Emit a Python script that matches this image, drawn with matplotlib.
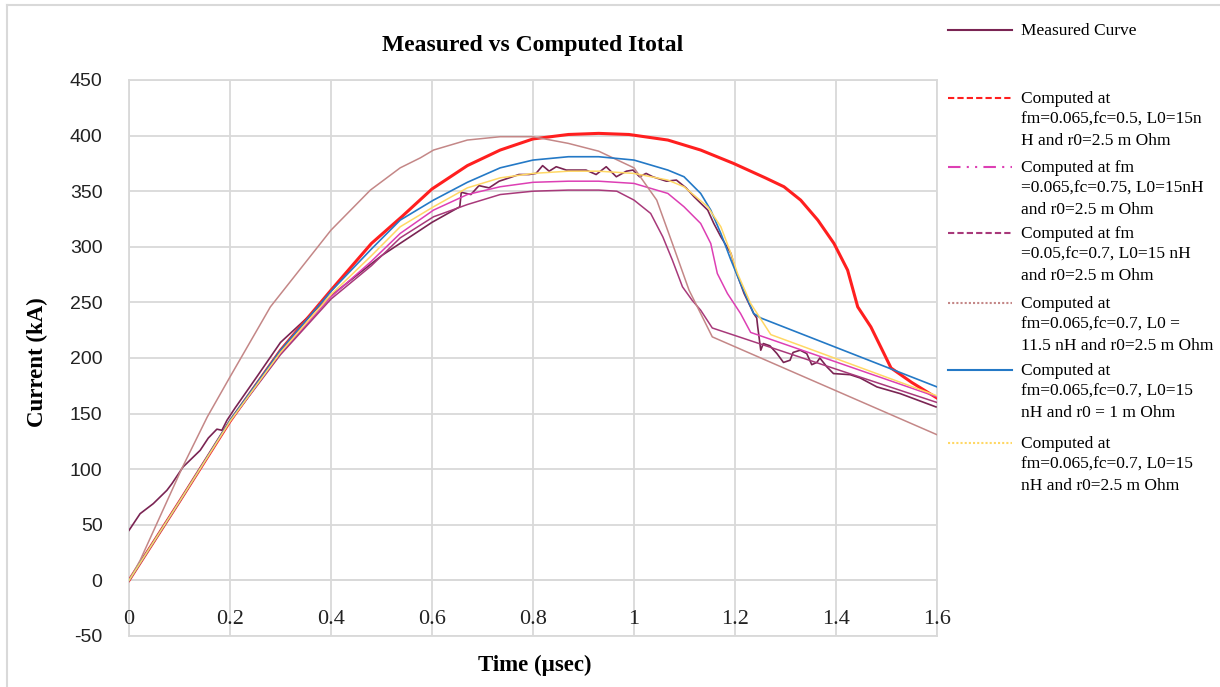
import matplotlib
matplotlib.use("Agg")
import matplotlib.pyplot as plt
from matplotlib.lines import Line2D

plt.rcParams["axes.unicode_minus"] = False

# data (time in usec, current in kA)
meas_t = [0, 0.022, 0.048, 0.075, 0.085, 0.107, 0.141, 0.157, 0.174, 0.184, 0.194, 0.21, 0.253, 0.3,
          0.4, 0.5, 0.6, 0.655, 0.658, 0.677, 0.693, 0.713, 0.733, 0.753, 0.772, 0.792, 0.806, 0.819,
          0.832, 0.846, 0.866, 0.885, 0.905, 0.925, 0.945, 0.965, 0.985, 0.998, 1.011, 1.024, 1.037,
          1.064, 1.084, 1.103, 1.119, 1.146, 1.158, 1.172, 1.192, 1.201, 1.218, 1.237, 1.243, 1.245,
          1.251, 1.256, 1.269, 1.283, 1.296, 1.309, 1.315, 1.329, 1.342, 1.352, 1.362, 1.368, 1.382,
          1.395, 1.428, 1.448, 1.481, 1.527, 1.598]
meas_i = [45, 60, 69, 81, 87, 102, 117, 128, 136, 135, 144, 155, 183, 214,
          256, 292, 322, 336, 349, 347, 355, 353, 359, 362, 365, 365, 366, 373,
          368, 372, 369, 369, 369, 365, 372, 363, 368, 369, 363, 366, 363,
          359, 360, 353, 345, 333, 321, 309, 294, 279, 258, 240, 236, 228,
          207, 213, 211, 204, 196, 198, 205, 207, 204, 194, 196, 200, 192,
          186, 185, 182, 174, 168, 156]

red_t = [0, 0.1, 0.2, 0.3, 0.4, 0.48, 0.54, 0.6, 0.67, 0.735, 0.8, 0.87, 0.93, 0.99, 1.067, 1.132,
         1.197, 1.26, 1.297, 1.33, 1.364, 1.396, 1.423, 1.443, 1.469, 1.495, 1.509, 1.55, 1.6]
red_i = [0, 71, 143, 207, 261, 303, 327, 352, 373, 387, 397, 401, 402, 401, 396, 387,
         375, 362, 354, 342, 324, 303, 279, 246, 228, 204, 191, 178, 164]

mag_t = [0, 0.1, 0.2, 0.3, 0.4, 0.48, 0.537, 0.603, 0.67, 0.735, 0.8, 0.87, 0.93, 1.0, 1.067, 1.099,
         1.132, 1.152, 1.165, 1.185, 1.211, 1.231, 1.6]
mag_i = [0, 71, 143, 204, 255, 287, 312, 333, 347, 354, 358, 359, 359, 357, 348, 336,
         321, 303, 276, 258, 240, 223, 165]

pur_t = [0, 0.1, 0.2, 0.3, 0.4, 0.48, 0.537, 0.603, 0.67, 0.735, 0.8, 0.87, 0.93, 0.966, 1.0, 1.033,
         1.057, 1.076, 1.096, 1.115, 1.132, 1.155, 1.4, 1.6]
pur_i = [0, 71, 143, 203, 253, 283, 308, 327, 338, 347, 350, 351, 351, 350, 342, 330,
         309, 288, 264, 252, 243, 227, 190, 160]

brn_t = [0, 0.022, 0.105, 0.155, 0.2, 0.28, 0.4, 0.478, 0.537, 0.577, 0.603, 0.67, 0.735, 0.8, 0.87,
         0.93, 1.0, 1.045, 1.076, 1.109, 1.132, 1.155, 1.6]
brn_i = [0, 18, 101, 147, 183, 246, 315, 351, 371, 380, 387, 396, 399, 399, 393,
         386, 371, 342, 303, 261, 240, 219, 131]

blu_t = [0, 0.1, 0.2, 0.3, 0.4, 0.48, 0.537, 0.603, 0.67, 0.735, 0.8, 0.87, 0.93, 1.0, 1.067, 1.099,
         1.132, 1.152, 1.172, 1.192, 1.211, 1.237, 1.251, 1.6]
blu_i = [0, 71, 144, 207, 260, 298, 324, 342, 358, 371, 378, 381, 381, 378, 369, 363,
         348, 333, 312, 288, 267, 240, 236, 174]

yel_t = [0, 0.1, 0.2, 0.3, 0.4, 0.48, 0.537, 0.603, 0.67, 0.735, 0.8, 0.87, 0.93, 1.0, 1.067, 1.099,
         1.146, 1.172, 1.192, 1.205, 1.231, 1.271, 1.6]
yel_i = [0, 71, 143, 205, 257, 292, 318, 336, 353, 362, 366, 368, 368, 366, 360, 354,
         336, 318, 294, 276, 249, 221, 166]

labels = [
    "Measured Curve",
    "Computed at\nfm=0.065,fc=0.5, L0=15n\nH and r0=2.5 m Ohm",
    "Computed at fm\n=0.065,fc=0.75, L0=15nH\nand r0=2.5 m Ohm",
    "Computed at fm\n=0.05,fc=0.7, L0=15 nH\nand r0=2.5 m Ohm",
    "Computed at\nfm=0.065,fc=0.7, L0 =\n11.5 nH and r0=2.5 m Ohm",
    "Computed at\nfm=0.065,fc=0.7, L0=15\nnH and r0 = 1 m Ohm",
    "Computed at\nfm=0.065,fc=0.7, L0=15\nnH and r0=2.5 m Ohm",
]
colors = ["#7a2453", "#ff1f1f", "#dd3fb4", "#a8397a", "#c48787", "#2479c6", "#ffd865"]
styles = ["-", (0, (3, 1.5)), (0, (6, 3, 1, 3, 1, 3)), (0, (3, 1.5)), (0, (1, 1)), "-", (0, (1, 1))]

serif = "Liberation Serif"
grid_c = "#d9d9d9"

fig = plt.figure(figsize=(12.2, 6.87), dpi=100)
ax = fig.add_axes([129 / 1220, 1 - 636 / 687, (937 - 129) / 1220, (636 - 80) / 687])

series = [(meas_t, meas_i), (red_t, red_i), (mag_t, mag_i), (pur_t, pur_i),
          (brn_t, brn_i), (blu_t, blu_i), (yel_t, yel_i)]
widths = [1.2, 2.2, 1.1, 1.1, 1.1, 1.2, 1.1]
for (t, i), c, w in zip(series, colors, widths):
    ax.plot(t, i, color=c, lw=w, solid_joinstyle="round")

ax.set_xlim(0, 1.6)
ax.set_ylim(-50, 450)
ax.set_xticks([0, 0.2, 0.4, 0.6, 0.8, 1, 1.2, 1.4, 1.6])
ax.set_xticklabels(["0", "0.2", "0.4", "0.6", "0.8", "1", "1.2", "1.4", "1.6"])
ax.set_yticks(range(-50, 451, 50))
ax.grid(True, color=grid_c, lw=1.3)
ax.set_axisbelow(True)
for s in ["top", "right", "left", "bottom"]:
    ax.spines[s].set_color(grid_c)
    ax.spines[s].set_linewidth(1.3)
    ax.spines[s].set_zorder(0.3)
ax.spines["bottom"].set_position(("data", 0))
ax.axhline(-50, color=grid_c, lw=1.3, clip_on=False, zorder=0.3)
ax.tick_params(axis="both", length=0, colors="#222222")
ax.tick_params(axis="y", pad=19, labelsize=14)
ax.tick_params(axis="x", pad=21, labelsize=16)
for lab in ax.get_xticklabels():
    lab.set_family(serif)
for lab in ax.get_yticklabels():
    lab.set_family("Liberation Sans")

fig.text(533 / 1220, 1 - 45 / 687, "Measured vs Computed Itotal", ha="center", va="center",
         family=serif, fontsize=17, fontweight="bold")
fig.text(535 / 1220, 1 - 665 / 687, "Time (\u00b5sec)", ha="center", va="center",
         family=serif, fontsize=16.5, fontweight="bold")
fig.text(37 / 1220, 1 - 362 / 687, "Current (kA)", ha="center", va="center", rotation=90,
         family=serif, fontsize=16.5, fontweight="bold")

# legend drawn by hand so the markers sit on the first text line
tops = [30, 98, 167, 233, 303, 370, 443]
for top, lab, c, ls in zip(tops, labels, colors, styles):
    yy = 1 - top / 687
    fig.add_artist(Line2D([948 / 1220, 1012 / 1220], [yy, yy], color=c, lw=1.5, ls=ls))
    fig.text(1021 / 1220, yy + 7 / 687, lab, ha="left", va="top", family=serif,
             fontsize=12.5, linespacing=1.42)

# light chart border
fig.add_artist(Line2D([7 / 1220, 7 / 1220], [0, 1 - 5 / 687], color=grid_c, lw=1.5))
fig.add_artist(Line2D([7 / 1220, 1], [1 - 5 / 687, 1 - 5 / 687], color=grid_c, lw=1.5))

fig.savefig("out.png", dpi=100)
